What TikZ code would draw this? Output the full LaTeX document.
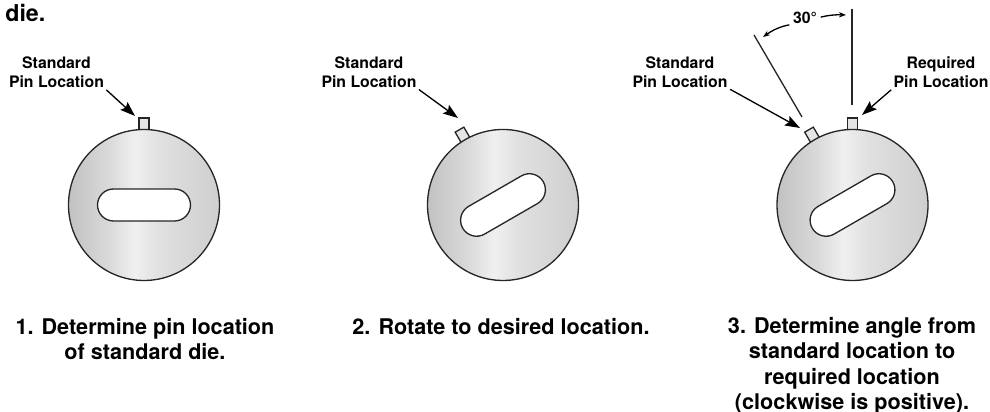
\documentclass[tikz,border=0pt]{standalone}
\usepackage{fontspec}
\setmainfont{TeX Gyre Heros}
\usetikzlibrary{arrows.meta, positioning, calc}
\pgfdeclarehorizontalshading{diskshade}{100bp}{color(0bp)=(black!29); color(22bp)=(black!26); color(38bp)=(black!15); color(47bp)=(black!6); color(55bp)=(black!12); color(75bp)=(black!19); color(100bp)=(black!25)}

\begin{document}
\begin{tikzpicture}[x=2cm, y=2cm, >={Stealth[length=8.5pt, width=6pt, inset=1.5pt]},
    every node/.style={inner sep=0pt},
    disk/.style={draw=black!85, line width=0.75pt, shade, shading=diskshade},
    slotcut/.style={draw=black!85, line width=0.75pt, fill=white},
    pintab/.style={draw=black!85, line width=0.75pt, fill=black!10},
    refline/.style={draw=black!85, line width=0.75pt},
    pinlabel/.style={font=\fontsize{9}{11.1}\selectfont\bfseries, align=center},
    caption/.style={font=\fontsize{12.3}{14.5}\selectfont\bfseries, align=center}]
\useasboundingbox (0,0) rectangle (9.9,4.12);
\node[font=\fontsize{13.2}{15}\selectfont\bfseries, anchor=base west] (title) at (0.05,3.90) {die.};
% 第一个模具
\begin{scope}[shift={(1.44,2.07)}]
\draw[pintab] (-.05,.73) rectangle (.05,.87);
\draw[disk] (0,0) circle (.755);
\draw[slotcut] (-.305,-.16) -- (.305,-.16) arc (-90:90:.16) -- (-.305,.16) arc (90:270:.16) -- cycle;
\end{scope}
\node[pinlabel] (stdA) at (0.565,3.40) {Standard\\Pin Location};
\coordinate (tipA) at (1.35,2.96);
\draw[->, line width=0.75pt, shorten <=1.5pt] (stdA.south east) -- (tipA);
\node[caption] (capA) at (1.45,0.73) {1. Determine pin location\\of standard die.};
% 第二个模具
\begin{scope}[shift={(5.03,2.07)}]
\begin{scope}[rotate=30]
\draw[pintab] (-.05,.73) rectangle (.05,.87);
\end{scope}
\draw[disk] (0,0) circle (.755);
\begin{scope}[rotate=30]
\draw[slotcut] (-.305,-.16) -- (.305,-.16) arc (-90:90:.16) -- (-.305,.16) arc (90:270:.16) -- cycle;
\end{scope}
\end{scope}
\node[pinlabel] (stdB) at (3.69,3.40) {Standard\\Pin Location};
\coordinate (tipB) at (4.58,2.94);
\draw[->, line width=0.75pt, shorten <=1.5pt] (stdB.south east) -- (tipB);
\node[caption] (capB) at (5.01,0.85) {2. Rotate to desired location.};
% 第三个模具
\begin{scope}[shift={(8.525,2.07)}]
\begin{scope}[rotate=30]
\draw[pintab] (-.05,.73) rectangle (.05,.87);
\end{scope}
\draw[pintab] (-.05,.73) rectangle (.05,.87);
\draw[disk] (0,0) circle (.755);
\begin{scope}[rotate=30]
\draw[slotcut] (-.305,-.16) -- (.305,-.16) arc (-90:90:.16) -- (-.305,.16) arc (90:270:.16) -- cycle;
\end{scope}
\end{scope}
\node[pinlabel] (stdC) at (6.80,3.40) {Standard\\Pin Location};
\node[pinlabel] (reqC) at (9.41,3.40) {Required\\Pin Location};
\coordinate (tipC) at (8.00,2.84);
\coordinate (tipD) at (8.62,2.97);
\draw[->, line width=0.75pt, shorten <=1.5pt] (stdC.south east) -- (tipC);
\draw[->, line width=0.75pt, shorten <=1.5pt] (reqC.south west) -- (tipD);
% 角度 30
\coordinate (lineLa) at (7.54,3.77);
\coordinate (lineLb) at (8.02,2.95);
\coordinate (lineRa) at (8.52,4.03);
\coordinate (lineRb) at (8.52,3.07);
\draw[refline] (lineLa) -- (lineLb);
\draw[refline] (lineRa) -- (lineRb);
\node[pinlabel] (deg) at (8.05,3.94) {30°};
\coordinate (arcL) at (7.63,3.75);
\coordinate (arcR) at (8.46,3.97);
\draw[-{Stealth[length=4pt, width=3pt]}, line width=0.75pt, shorten <=2pt] (deg.south west) to[bend right=12] (arcL);
\draw[-{Stealth[length=4pt, width=3pt]}, line width=0.75pt, shorten <=2pt] (deg.east) to[bend left=8] (arcR);
\node[caption] (capC) at (8.52,0.46) {3. Determine angle from\\standard location to\\required location\\(clockwise is positive).};
\end{tikzpicture}
\end{document}
